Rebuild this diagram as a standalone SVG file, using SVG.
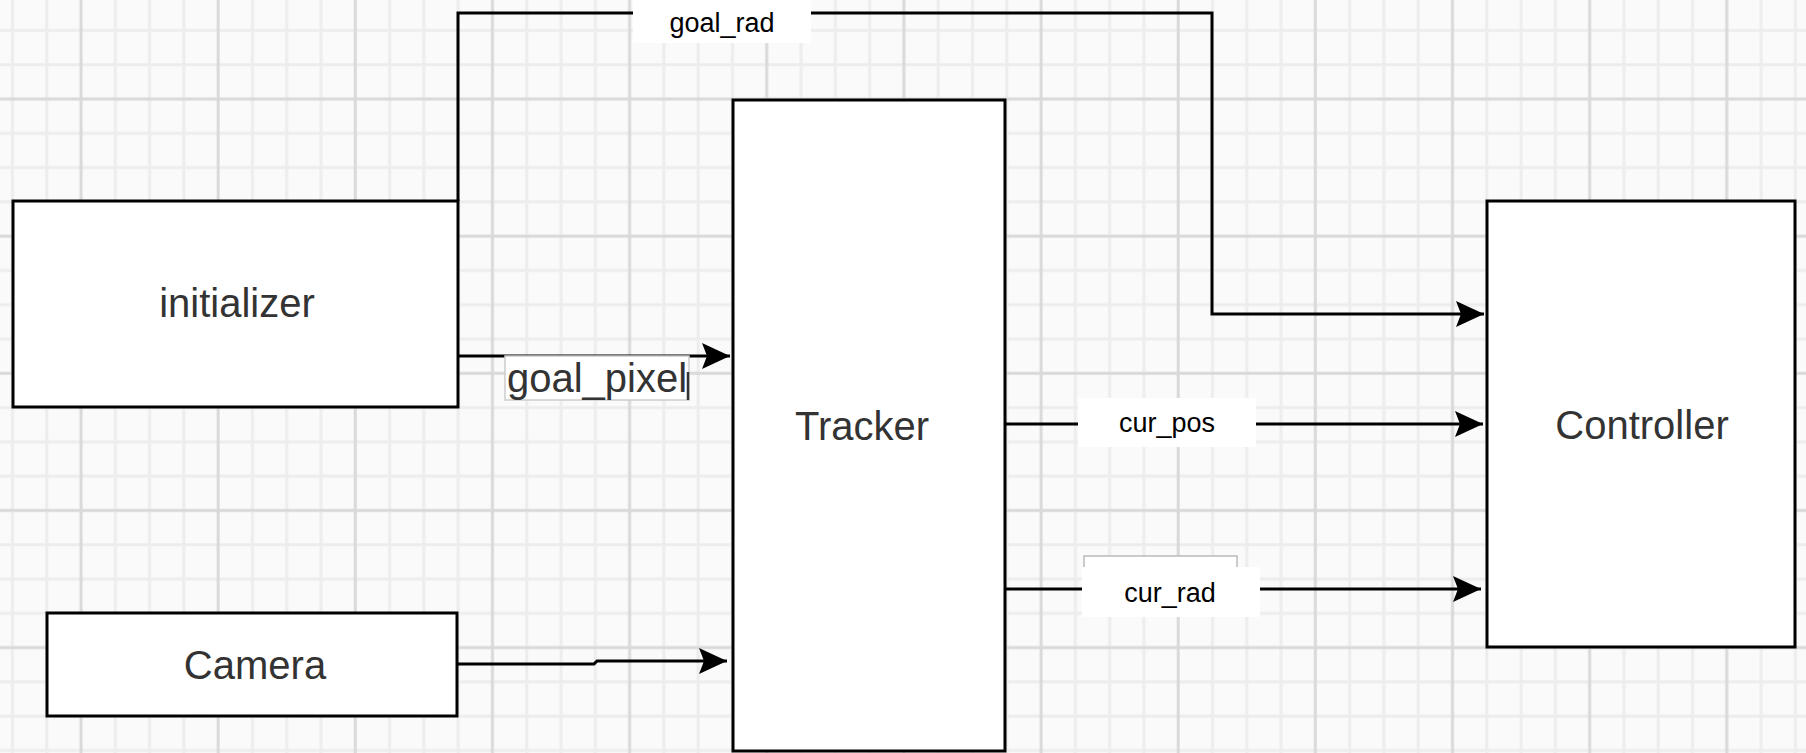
<svg xmlns="http://www.w3.org/2000/svg" width="1806" height="753" viewBox="0 0 1806 753">
  <defs>
    <pattern id="grid" patternUnits="userSpaceOnUse" x="63.86" y="81.86" width="137.15" height="137.15">
      <rect x="0" y="0" width="137.15" height="137.15" fill="#fafafa"/>
      <g stroke="#ededed" stroke-width="3">
        <line x1="51.43" y1="0" x2="51.43" y2="137.15"/>
        <line x1="85.72" y1="0" x2="85.72" y2="137.15"/>
        <line x1="120.01" y1="0" x2="120.01" y2="137.15"/>
        <line x1="0" y1="51.43" x2="137.15" y2="51.43"/>
        <line x1="0" y1="85.72" x2="137.15" y2="85.72"/>
        <line x1="0" y1="120.01" x2="137.15" y2="120.01"/>
      </g>
      <g stroke="#d9d9d9" stroke-width="3">
        <line x1="17.14" y1="0" x2="17.14" y2="137.15"/>
        <line x1="0" y1="17.14" x2="137.15" y2="17.14"/>
      </g>
    </pattern>
    <marker id="arr" markerUnits="userSpaceOnUse" markerWidth="28" markerHeight="28" viewBox="0 0 28 28" refX="28" refY="14" orient="auto">
      <path d="M28,14 L0,1 L5,14 L0,27 Z" fill="#000"/>
    </marker>
    <style>
      .node { fill: #ffffff; stroke: #000000; stroke-width: 3; }
      .ntext { font-family: "Liberation Sans", Arial, sans-serif; font-size: 40px; fill: #333333; text-anchor: middle; }
      .conn { fill: none; stroke: #000000; stroke-width: 3; }
      .lbox { fill: #ffffff; stroke: none; }
      .ltext { font-family: "Liberation Sans", Arial, sans-serif; font-size: 27px; fill: #000000; text-anchor: middle; }
    </style>
  </defs>

  <rect x="0" y="0" width="1806" height="753" fill="url(#grid)"/>

  <g id="initializer">
    <rect class="node" x="13" y="201" width="445" height="206"/>
    <text class="ntext" x="237" y="317">initializer</text>
  </g>

  <g id="camera">
    <rect class="node" x="47" y="613" width="410" height="103"/>
    <text class="ntext" x="255" y="679">Camera</text>
  </g>

  <g id="tracker">
    <rect class="node" x="733" y="100" width="272" height="651"/>
    <text class="ntext" x="862" y="440">Tracker</text>
  </g>

  <g id="controller">
    <rect class="node" x="1487" y="201" width="308" height="446"/>
    <text class="ntext" x="1642" y="439">Controller</text>
  </g>

  <g id="connectors">
    <path class="conn" d="M458,201 V13 H1212 V314 H1484" marker-end="url(#arr)"/>
    <path class="conn" d="M458,356 H730" marker-end="url(#arr)"/>
    <path class="conn" d="M458,664 H594 L597,661 H727" marker-end="url(#arr)"/>
    <path class="conn" d="M1005,424 H1483" marker-end="url(#arr)"/>
    <path class="conn" d="M1005,589 H1481" marker-end="url(#arr)"/>

    <g id="label-goal_rad">
      <rect class="lbox" x="633" y="0" width="178" height="43"/>
      <text class="ltext" x="722" y="32">goal_rad</text>
    </g>
    <g id="label-goal_pixel">
      <rect x="505" y="356" width="184" height="44" fill="#ffffff" stroke="#cccccc" stroke-width="1.5"/>
      <text class="ntext" x="597" y="392">goal_pixel</text>
      <line x1="688" y1="372" x2="688" y2="400" stroke="#333333" stroke-width="2.5"/>
    </g>
    <g id="label-cur_pos">
      <rect class="lbox" x="1078" y="398" width="178" height="49"/>
      <text class="ltext" x="1167" y="432">cur_pos</text>
    </g>
    <g id="label-cur_rad">
      <rect x="1084" y="556" width="153" height="40" fill="#ffffff" stroke="#bbbbbb" stroke-width="1.5"/>
      <rect class="lbox" x="1082" y="567" width="178" height="50"/>
      <text class="ltext" x="1170" y="602">cur_rad</text>
    </g>
  </g>
</svg>
